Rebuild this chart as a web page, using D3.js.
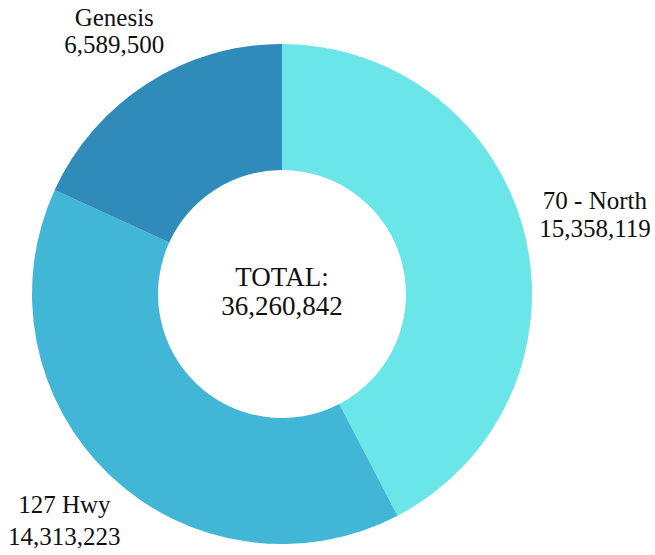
<!DOCTYPE html>
<html>
<head>
<meta charset="utf-8">
<script src="https://cdn.jsdelivr.net/npm/d3@7"></script>
<style>
  body { margin: 0; background: #fff; }
</style>
</head>
<body>
<script>
// chart data
const regions = ["70 - North", "127 Hwy", "Genesis"];
const amounts = [15358119, 14313223, 6589500];
const colors = ["#6ae5e8", "#42b6d6", "#2e8bba"];

const width = 655;
const height = 555;
const cx = 282, cy = 294;
const outerR = 250, innerR = 124, labelR = 316;
const font = "Liberation Serif";

const fmt = d3.format(",");

const svg = d3.select("body")
  .append("svg")
  .attr("width", width)
  .attr("height", height)
  .style("font-family", font);

const g = svg.append("g").attr("transform", `translate(${cx},${cy})`);

const rows = regions.map((r, i) => ({name: r, value: amounts[i], color: colors[i]}));

const pie = d3.pie().value(d => d.value).sort(null);
const arc = d3.arc().innerRadius(innerR).outerRadius(outerR);
const labelArc = d3.arc().innerRadius(labelR).outerRadius(labelR);

const arcs = pie(rows);

g.selectAll("path.slice")
  .data(arcs)
  .join("path")
  .attr("class", "slice")
  .attr("d", arc)
  .attr("fill", d => d.data.color);

// label nudges: [dx, first baseline, second baseline]
const nudge = {"70 - North": [6, -10, 18], "127 Hwy": [0, -10, 22], "Genesis": [3, -2, 25]};
const labels = g.selectAll("g.label")
  .data(arcs)
  .join("g")
  .attr("class", "label")
  .attr("transform", d => {
    const [x, y] = labelArc.centroid(d);
    return `translate(${x + nudge[d.data.name][0]},${y})`;
  });

function addText(sel, size) {
  return sel.append("text")
    .attr("text-anchor", "middle")
    .style("font-family", font)
    .attr("font-size", size)
    .attr("fill", "#111");
}

addText(labels, 25)
  .attr("y", d => nudge[d.data.name][1])
  .text(d => d.data.name);

addText(labels, 25)
  .attr("y", d => nudge[d.data.name][2])
  .text(d => fmt(d.data.value));

const total = d3.sum(amounts);
addText(g, 27).attr("y", -8).text("TOTAL:");
addText(g, 27).attr("y", 21).text(fmt(total));
</script>
</body>
</html>
